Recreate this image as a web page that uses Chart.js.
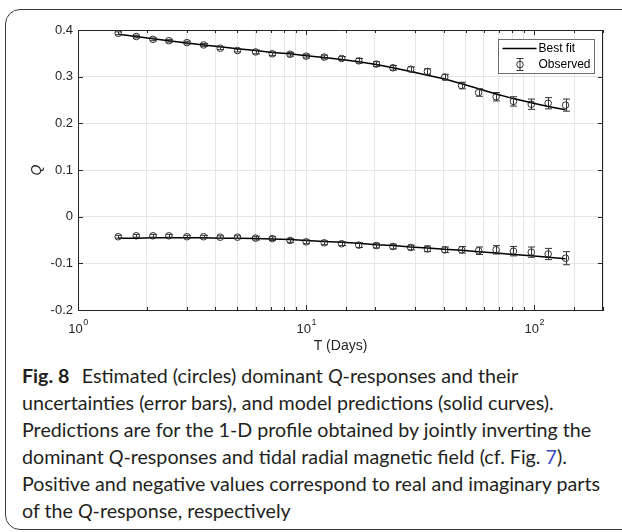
<!DOCTYPE html>
<html>
<head>
<meta charset="utf-8">
<script src="https://cdn.jsdelivr.net/npm/chart.js@4.4.1/dist/chart.umd.min.js"></script>
<style>
html, body { margin: 0; padding: 0; background: #fff; width: 622px; height: 532px; overflow: hidden; }
#frame { position: absolute; left: 5px; top: 9px; width: 720px; height: 521px; border: 1.4px solid #3a3a3a; border-radius: 15px; box-sizing: border-box; }
#wrap { position: absolute; left: 0; top: 0; width: 622px; height: 360px; }
#caption { position: absolute; left: 22px; top: 362px; font-family: Lato, "Noto Sans", sans-serif; font-size: 19px; line-height: 27px; color: #231f20; white-space: nowrap; transform-origin: 0 0; }
#caption b { margin-right: 12px; }
#caption .lnk { color: #3b4cc0; }
</style>
</head>
<body>
<div id="frame"></div>
<div id="wrap"><canvas id="qChart" width="622" height="360"></canvas></div>
<div id="caption">
<div><span><b>Fig. 8</b>Estimated (circles) dominant <i>Q</i>-responses and their</span></div>
<div><span>uncertainties (error bars), and model predictions (solid curves).</span></div>
<div><span>Predictions are for the 1-D profile obtained by jointly inverting the</span></div>
<div><span>dominant <i>Q</i>-responses and tidal radial magnetic field (cf. Fig. <span class="lnk">7</span>).</span></div>
<div><span id="longLine">Positive and negative values correspond to real and imaginary parts</span></div>
<div><span>of the <i>Q</i>-response, respectively</span></div>
</div>
<script>
// periods in days
var periods = [1.5, 1.8, 2.13, 2.5, 3.0, 3.55, 4.2, 5.0, 6.0, 7.1, 8.5, 10, 12, 14.3, 17, 20.3, 24, 28.7, 34, 40.5, 48, 57, 68, 81, 97, 115, 137];

// observed real part (positive) and its uncertainty
var realObs = [0.393, 0.386, 0.380, 0.377, 0.373, 0.368, 0.361, 0.356, 0.353, 0.349, 0.348, 0.344, 0.342, 0.339, 0.334, 0.327, 0.319, 0.316, 0.311, 0.299, 0.281, 0.266, 0.257, 0.247, 0.241, 0.243, 0.239];
var realErr = [0.003, 0.003, 0.003, 0.003, 0.003, 0.003, 0.003, 0.003, 0.004, 0.004, 0.004, 0.004, 0.004, 0.004, 0.005, 0.005, 0.005, 0.005, 0.006, 0.006, 0.007, 0.008, 0.009, 0.010, 0.011, 0.012, 0.013];

// observed imaginary part (negative) and its uncertainty
var imagObs = [-0.043, -0.041, -0.041, -0.041, -0.043, -0.043, -0.044, -0.044, -0.046, -0.047, -0.051, -0.054, -0.056, -0.058, -0.061, -0.062, -0.064, -0.066, -0.069, -0.071, -0.071, -0.073, -0.071, -0.074, -0.076, -0.080, -0.089];
var imagErr = [0.003, 0.003, 0.003, 0.003, 0.003, 0.003, 0.003, 0.003, 0.004, 0.004, 0.004, 0.004, 0.004, 0.004, 0.005, 0.005, 0.005, 0.005, 0.006, 0.006, 0.007, 0.008, 0.009, 0.010, 0.011, 0.012, 0.014];

// model predictions
var realFit = [0.391, 0.386, 0.381, 0.377, 0.372, 0.368, 0.364, 0.360, 0.356, 0.352, 0.349, 0.345, 0.341, 0.337, 0.332, 0.326, 0.319, 0.311, 0.303, 0.295, 0.285, 0.274, 0.263, 0.253, 0.244, 0.236, 0.229];
var imagFit = [-0.046, -0.046, -0.045, -0.045, -0.045, -0.045, -0.046, -0.046, -0.047, -0.048, -0.049, -0.051, -0.053, -0.055, -0.057, -0.060, -0.062, -0.065, -0.067, -0.070, -0.072, -0.075, -0.078, -0.081, -0.084, -0.087, -0.090];

// x tick labels: base and exponent
var xTickExp = { 1: "0", 10: "1", 100: "2" };
var legendLabels = ["Best fit", "Observed"];

function pts(ys) {
    return periods.map(function (p, i) { return { x: p, y: ys[i] }; });
}

var inkColor = "#262626";
var fontFam = '"Liberation Sans", Arial, sans-serif';

var errorBars = {
    id: "errorBars",
    afterDatasetsDraw: function (chart) {
        var ctx = chart.ctx, xs = chart.scales.x, ys = chart.scales.y;
        ctx.save();
        ctx.strokeStyle = "#333";
        ctx.lineWidth = 1;
        chart.data.datasets.forEach(function (ds) {
            if (!ds.errs) return;
            ds.data.forEach(function (p, j) {
                var x = Math.round(xs.getPixelForValue(p.x)) + 0.5;
                var yt = ys.getPixelForValue(p.y + ds.errs[j]);
                var yb = ys.getPixelForValue(p.y - ds.errs[j]);
                ctx.beginPath();
                ctx.moveTo(x, yt); ctx.lineTo(x, yb);
                ctx.moveTo(x - 3.5, yt); ctx.lineTo(x + 3.5, yt);
                ctx.moveTo(x - 3.5, yb); ctx.lineTo(x + 3.5, yb);
                ctx.stroke();
            });
        });
        ctx.restore();
    }
};

var matlabAxes = {
    id: "matlabAxes",
    afterDraw: function (chart) {
        var ctx = chart.ctx, a = chart.chartArea, xs = chart.scales.x, ys = chart.scales.y;
        ctx.save();
        ctx.strokeStyle = inkColor;
        ctx.lineWidth = 1;
        ctx.beginPath();
        // box top and right
        ctx.moveTo(a.left, Math.round(a.top) + 0.5); ctx.lineTo(a.right, Math.round(a.top) + 0.5);
        ctx.moveTo(Math.round(a.right) - 0.5, a.top); ctx.lineTo(Math.round(a.right) - 0.5, a.bottom);
        // inward x ticks, bottom and top
        xs.ticks.forEach(function (t) {
            var lg = Math.log10(t.value);
            var len = Math.abs(lg - Math.round(lg)) < 1e-9 ? 5 : 3;
            var x = Math.round(xs.getPixelForValue(t.value)) + 0.5;
            ctx.moveTo(x, a.bottom); ctx.lineTo(x, a.bottom - len);
            ctx.moveTo(x, a.top); ctx.lineTo(x, a.top + len);
        });
        // inward y ticks, left and right
        ys.ticks.forEach(function (t) {
            var y = Math.round(ys.getPixelForValue(t.value)) + 0.5;
            ctx.moveTo(a.left, y); ctx.lineTo(a.left + 5, y);
            ctx.moveTo(a.right, y); ctx.lineTo(a.right - 5, y);
        });
        ctx.stroke();

        // x tick labels as 10 with a raised exponent
        ctx.fillStyle = inkColor;
        ctx.textBaseline = "alphabetic";
        ctx.textAlign = "left";
        xs.ticks.forEach(function (t) {
            var e = xTickExp[t.value];
            if (e === undefined) return;
            var x = xs.getPixelForValue(t.value);
            ctx.font = "13px " + fontFam;
            var wb = ctx.measureText("10").width;
            ctx.font = "9px " + fontFam;
            var we = ctx.measureText(e).width;
            var x0 = x - (wb + we) / 2;
            ctx.font = "13px " + fontFam;
            ctx.fillText("10", x0, a.bottom + 23);
            ctx.font = "9px " + fontFam;
            ctx.fillText(e, x0 + wb + 0.5, a.bottom + 15);
        });

        // legend
        var bx = Math.round(a.right) - 104.5, by = Math.round(a.top) + 9.5, bw = 96, bh = 34;
        ctx.fillStyle = "#fff";
        ctx.fillRect(bx, by, bw, bh);
        ctx.strokeStyle = "#6e6e6e";
        ctx.strokeRect(bx, by, bw, bh);
        var r1 = by + 9, r2 = by + 25;
        ctx.strokeStyle = "#000";
        ctx.lineWidth = 1.5;
        ctx.beginPath();
        ctx.moveTo(bx + 4, r1); ctx.lineTo(bx + 38, r1);
        ctx.stroke();
        var sx = bx + 21.5;
        ctx.lineWidth = 1;
        ctx.strokeStyle = "#333";
        ctx.beginPath();
        ctx.moveTo(sx, r2 - 6); ctx.lineTo(sx, r2 + 6);
        ctx.moveTo(sx - 3.5, r2 - 6); ctx.lineTo(sx + 3.5, r2 - 6);
        ctx.moveTo(sx - 3.5, r2 + 6); ctx.lineTo(sx + 3.5, r2 + 6);
        ctx.stroke();
        ctx.beginPath();
        ctx.arc(sx, r2, 3.3, 0, Math.PI * 2);
        ctx.stroke();
        ctx.fillStyle = "#000";
        ctx.font = "12px " + fontFam;
        ctx.textBaseline = "middle";
        ctx.textAlign = "left";
        ctx.fillText(legendLabels[0], bx + 40, r1);
        ctx.fillText(legendLabels[1], bx + 40, r2);
        ctx.restore();
    }
};

Chart.defaults.font.family = fontFam;
Chart.defaults.color = inkColor;

var obsStyle = {
    showLine: false,
    pointStyle: "circle",
    pointRadius: 3.3,
    pointHoverRadius: 3.3,
    pointBorderWidth: 1,
    pointBorderColor: "#333",
    pointBackgroundColor: "rgba(0,0,0,0)"
};

new Chart("qChart", {
    type: "line",
    data: {
        datasets: [
            { label: legendLabels[0], data: pts(realFit), borderColor: "#000", borderWidth: 1.5, pointRadius: 0, fill: false },
            { label: legendLabels[0], data: pts(imagFit), borderColor: "#000", borderWidth: 1.5, pointRadius: 0, fill: false },
            Object.assign({ label: legendLabels[1], data: pts(realObs), errs: realErr }, obsStyle),
            Object.assign({ label: legendLabels[1], data: pts(imagObs), errs: imagErr }, obsStyle)
        ]
    },
    options: {
        responsive: false,
        animation: false,
        events: [],
        layout: { padding: { left: 0, right: 19, top: 30, bottom: 0 } },
        plugins: {
            legend: { display: false },
            tooltip: { enabled: false }
        },
        scales: {
            x: {
                type: "logarithmic",
                min: 1,
                max: 200,
                afterFit: function (s) { s.height = 50; },
                grid: { color: "#e6e6e6", drawTicks: false },
                border: { display: true, color: inkColor },
                ticks: { display: false, autoSkip: false },
                title: { display: true, text: "T (Days)", font: { size: 14 }, color: inkColor, padding: { top: 0, bottom: 5 } }
            },
            y: {
                min: -0.2,
                max: 0.4,
                afterFit: function (s) { s.width = 78; },
                grid: { color: "#e6e6e6", drawTicks: false },
                border: { display: true, color: inkColor },
                ticks: {
                    stepSize: 0.1,
                    padding: 5,
                    font: { size: 13 },
                    color: inkColor,
                    callback: function (v) { return Math.abs(v) < 1e-9 ? "0" : v.toFixed(1); }
                },
                title: { display: true, text: "Q", font: { size: 14, style: "italic" }, color: inkColor, padding: { top: 29, bottom: 0 } }
            }
        }
    },
    plugins: [errorBars, matlabAxes]
});

// fit caption width to the original column
var cap = document.getElementById("caption");
var w = document.getElementById("longLine").getBoundingClientRect().width;
cap.style.transform = "scaleX(" + (578 / w) + ")";
</script>
</body>
</html>
